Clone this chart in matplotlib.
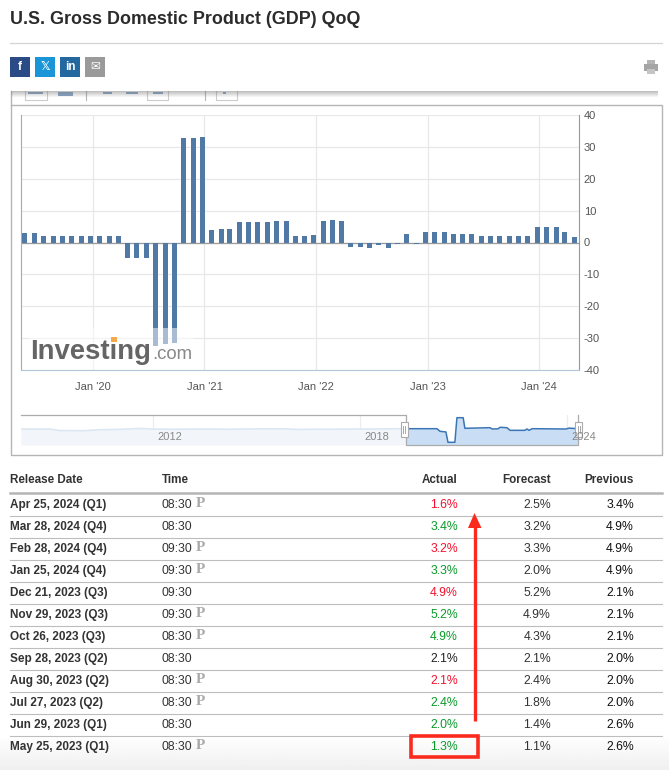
import numpy as np
import pandas as pd
from matplotlib import pyplot as plt
from matplotlib.patches import Rectangle, Polygon

plt.rcParams['font.family'] = ['Liberation Sans', 'DejaVu Sans']
plt.rcParams['axes.unicode_minus'] = False

W, H = 669, 770

#--- Main chart data (one bar per month)
bar_dates = [
    '2019-05-25', '2019-06-25', '2019-07-25', '2019-08-25', '2019-09-25', '2019-10-25', '2019-11-25', '2019-12-25',
    '2020-01-25', '2020-02-25', '2020-03-25', '2020-04-25', '2020-05-25', '2020-06-25', '2020-07-25', '2020-08-25',
    '2020-09-25', '2020-10-25', '2020-11-25', '2020-12-25', '2021-01-25', '2021-02-25', '2021-03-25', '2021-04-25',
    '2021-05-25', '2021-06-25', '2021-07-25', '2021-08-25', '2021-09-25', '2021-10-25', '2021-11-25', '2021-12-25',
    '2022-01-25', '2022-02-25', '2022-03-25', '2022-04-25', '2022-05-25', '2022-06-25', '2022-07-25', '2022-08-25',
    '2022-09-25', '2022-10-25', '2022-11-25', '2022-12-25', '2023-01-25', '2023-02-25', '2023-03-25', '2023-04-25',
    '2023-05-25', '2023-06-25', '2023-07-25', '2023-08-25', '2023-09-25', '2023-10-25', '2023-11-25', '2023-12-25',
    '2024-01-25', '2024-02-25', '2024-03-25', '2024-04-25',
]
bar_values = [
    3.0, 3.0, 2.1, 2.0, 2.0, 2.0, 2.1, 2.1, 2.1, 2.1, 2.1, -4.8, -4.9, -4.9, -32.6, -31.8, -31.4, 32.9, 32.9, 33.2,
    4.0, 4.1, 4.1, 6.4, 6.4, 6.4, 6.4, 6.7, 6.7, 2.0, 2.1, 2.3, 6.9, 7.0, 6.9, -1.4, -1.4, -1.6, -0.9, -1.6, -0.6,
    2.6, -0.4, 3.2, 3.2, 3.2, 2.6, 2.6, 2.6, 2.0, 2.0, 2.0, 2.1, 2.1, 2.1, 4.9, 4.9, 4.9, 3.3, 1.6,
]
y_ticks = [40, 30, 20, 10, 0, -10, -20, -30, -40]
x_tick_dates = ['2020-01-01', '2021-01-01', '2022-01-01', '2023-01-01', '2024-01-01']
x_tick_labels = ["Jan '20", "Jan '21", "Jan '22", "Jan '23", "Jan '24"]

#--- Navigator data, left of the selection
nav_years = [2008.17, 2009.0, 2009.3, 2010.0, 2010.4, 2011.0, 2011.6, 2012.0, 2012.6, 2013.2, 2013.8, 2014.2, 2014.6,
             2015.2, 2015.8, 2016.2, 2016.8, 2017.2, 2017.8, 2018.2, 2018.8, 2019.33]
nav_values = [2.5, 2.5, -1.5, -2.0, 0.5, 1.5, 4.0, 2.5, 2.0, 2.5, 2.5, 2.0, 2.5, 3.0, 3.0, 1.5, 2.0, 2.0, 2.5, 2.5, 3.0, 3.4]
#--- Navigator data, inside the selection
sel_years = [2019.33, 2019.42, 2020.23, 2020.32, 2020.49, 2020.55, 2020.75, 2020.81, 2020.99, 2021.04, 2021.77, 2021.83,
             2022.0, 2022.06, 2022.26, 2022.35, 2022.78, 2022.84, 2022.90, 2022.99, 2023.97, 2024.06, 2024.2, 2024.32]
sel_values = [3.4, 3.4, 3.4, -3.4, -5.0, -32.0, -32.0, 32.0, 32.0, 4.4, 6.0, 2.6,
              3.0, 7.0, 6.0, -0.9, -0.9, 2.6, -0.9, 3.4, 2.6, 4.9, 4.0, 4.0]
nav_tick_years = [2012, 2018, 2024]

#--- Table data
release_dates = ['Apr 25, 2024 (Q1)', 'Mar 28, 2024 (Q4)', 'Feb 28, 2024 (Q4)', 'Jan 25, 2024 (Q4)',
                 'Dec 21, 2023 (Q3)', 'Nov 29, 2023 (Q3)', 'Oct 26, 2023 (Q3)', 'Sep 28, 2023 (Q2)',
                 'Aug 30, 2023 (Q2)', 'Jul 27, 2023 (Q2)', 'Jun 29, 2023 (Q1)', 'May 25, 2023 (Q1)']
times = ['08:30', '08:30', '09:30', '09:30', '09:30', '09:30', '08:30', '08:30', '08:30', '08:30', '08:30', '08:30']
prelim = [True, False, True, True, False, True, True, False, True, True, False, True]
actual = ['1.6%', '3.4%', '3.2%', '3.3%', '4.9%', '5.2%', '4.9%', '2.1%', '2.1%', '2.4%', '2.0%', '1.3%']
actual_colors = ['r', 'g', 'r', 'g', 'r', 'g', 'g', 'k', 'r', 'g', 'g', 'g']
forecast = ['2.5%', '3.2%', '3.3%', '2.0%', '5.2%', '4.9%', '4.3%', '2.1%', '2.4%', '1.8%', '1.4%', '1.1%']
previous = ['3.4%', '4.9%', '4.9%', '4.9%', '2.1%', '2.1%', '2.1%', '2.0%', '2.0%', '2.0%', '2.6%', '2.6%']

color_map = {'r': '#f5112e', 'g': '#0a9a2a', 'k': '#222222'}
BAR_COLOR = '#5079a5'
GRID = '#e8e8e8'
RIGHT = 661.5


def axes_px(left, top, right, bottom, **kwargs):
    return fig.add_axes([left / W, 1 - bottom / H, (right - left) / W, (bottom - top) / H], **kwargs)


fig = plt.figure(figsize=(W / 100, H / 100), dpi=100, facecolor='white')

# ------------------------ page layer, in pixels ------------------------
page = fig.add_axes([0, 0, 1, 1], zorder=0)
page.set_xlim(0, W)
page.set_ylim(H, 0)
page.axis('off')

page.text(10, 20, 'U.S. Gross Domestic Product (GDP) QoQ', fontsize=12.9, fontweight='bold', color='#2b2b2b', va='center')
page.plot([10, RIGHT], [42.5, 42.5], color='#d4d4d4', lw=0.9)

#--- Share buttons
share_left = [10, 35, 60, 85]
share_colors = ['#2b4b86', '#1a95d8', '#23689f', '#9a9a9a']
share_text = ['f', '𝕏', 'in', '✉']
for x0, col, txt in zip(share_left, share_colors, share_text):
    page.add_patch(Rectangle((x0, 57), 20, 20, facecolor=col, edgecolor='none'))
    page.text(x0 + 10, 67, txt, color='white', fontsize=8.5, ha='center', va='center', fontweight='bold',
              family=['DejaVu Sans'] if txt in ('𝕏', '✉') else ['Liberation Sans'])

#--- Printer icon
page.add_patch(Rectangle((644, 64), 14, 7, facecolor='#a5a5a5', edgecolor='none'))
page.add_patch(Rectangle((647, 60), 8, 4, facecolor='#b5b5b5', edgecolor='none'))
page.add_patch(Rectangle((647, 69), 8, 5, facecolor='#c5c5c5', edgecolor='none'))

#--- Chart container and cut off toolbar
page.plot([11, 11, RIGHT, RIGHT, 11], [91, 454.5, 454.5, 104.5, 104.5], color='#b5b5b5', lw=1)
for x0, x1 in [(25, 47), (147, 168), (216, 237)]:
    page.plot([x0, x0, x1, x1], [91, 99.5, 99.5, 91], color='#cccccc', lw=0.8)
for x0, x1, h in [(28, 43, 2), (58, 73, 4), (103, 112, 1.5), (126, 138, 2), (153, 163, 2), (223, 226, 1.5)]:
    page.add_patch(Rectangle((x0, 92), x1 - x0, h, facecolor='#86a3c6', edgecolor='none'))
for x0 in [86, 205]:
    page.plot([x0, x0], [91, 100], color='#b5b5b5', lw=0.8)
shade = np.ones((8, 1, 4))
shade[:, 0, :3] = 0.45
shade[:, 0, 3] = np.linspace(0.45, 0, 8)
page.imshow(shade, extent=(11, 658, 98, 91), aspect='auto', zorder=3)
page.set_xlim(0, W)
page.set_ylim(H, 0)

#--- Table header
header_y = 480
page.text(10, header_y, 'Release Date', fontsize=8.4, fontweight='bold', color='#333333', va='center')
page.text(162, header_y, 'Time', fontsize=8.4, fontweight='bold', color='#333333', va='center')
page.text(457.7, header_y, 'Actual', fontsize=8.4, fontweight='bold', color='#333333', va='center', ha='right')
page.text(551.3, header_y, 'Forecast', fontsize=8.4, fontweight='bold', color='#333333', va='center', ha='right')
page.text(634, header_y, 'Previous', fontsize=8.4, fontweight='bold', color='#333333', va='center', ha='right')
page.plot([10, RIGHT], [493, 493], color='#b5b5b5', lw=1.8)

#--- Bottom fade of the last row
page.imshow(np.linspace(1, 0.94, 20)[:, None], cmap='gray', vmin=0, vmax=1, extent=(0, W, 770, 735), aspect='auto', zorder=0)
page.set_xlim(0, W)
page.set_ylim(H, 0)

#--- Table rows
for i in range(len(release_dates)):
    y = 505 + 22 * i
    page.text(10, y, release_dates[i], fontsize=8.5, fontweight='bold', color='#333333', va='center')
    page.text(162, y, times[i], fontsize=8.8, color='#333333', va='center')
    if prelim[i]:
        page.text(196, y - 1.5, 'P', fontsize=11, fontweight='bold', color='#aaaaaa', va='center', family=['Liberation Serif'])
    page.text(458, y, actual[i], fontsize=8.8, color=color_map[actual_colors[i]], va='center', ha='right')
    page.text(551, y, forecast[i], fontsize=8.8, color='#333333', va='center', ha='right')
    page.text(634, y, previous[i], fontsize=8.8, color='#111111', va='center', ha='right')
    if i < len(release_dates) - 1:
        page.plot([10, RIGHT], [y + 11, y + 11], color='#bdbdbd', lw=0.8)

#--- Red annotations
RED = '#fb2a1f'
page.add_patch(Rectangle((411, 736), 67, 21, facecolor='none', edgecolor=RED, lw=2.6, zorder=5))
page.plot([474.5, 474.5], [721, 526], color=RED, lw=2.4, zorder=5, solid_capstyle='butt')
page.add_patch(Polygon([(474.5, 513), (468, 528), (481.5, 528)], closed=True, facecolor=RED, edgecolor='none', zorder=5))

# ------------------------ main chart ------------------------
ax = axes_px(21, 115, 579, 370, zorder=2)
ax.patch.set_alpha(0)
dates = pd.to_datetime(bar_dates)
ax.bar(dates, bar_values, width=16.3, color=BAR_COLOR, zorder=3)
ax.axhline(0, color='#9a9a9a', lw=0.9, zorder=2)
ax.set_xlim(pd.Timestamp('2019-05-12'), pd.Timestamp('2024-05-10'))
ax.set_ylim(-40, 40)
ax.set_yticks(y_ticks)
ax.set_xticks(pd.to_datetime(x_tick_dates))
ax.set_xticklabels(x_tick_labels)
ax.grid(True, color=GRID, lw=0.9, zorder=0)
ax.set_axisbelow(True)
ax.yaxis.tick_right()
ax.tick_params(axis='both', length=0, labelsize=8, labelcolor='#555555')
ax.tick_params(axis='x', pad=8.5)
ax.tick_params(axis='y', pad=3.5)
ax.spines['top'].set_visible(False)
ax.spines['left'].set_color('#aaaaaa')
ax.spines['right'].set_color('#999999')
ax.spines['bottom'].set_color('#b4c6dc')

#--- Investing.com watermark, it washes out the bars below it
page_top = axes_px(0, 0, W, H, zorder=3)
page_top.set_xlim(0, W)
page_top.set_ylim(H, 0)
page_top.axis('off')
page_top.add_patch(Rectangle((29, 328), 164, 41, facecolor='white', edgecolor='none', alpha=0.5))
page_top.text(30, 359, 'Investing', fontsize=19.8, fontweight='bold', color='#656565', va='baseline')
page_top.text(152, 359, '.com', fontsize=13.4, color='#888888', va='baseline')
page_top.add_patch(Rectangle((111, 337), 6, 5, facecolor='#f7a94a', edgecolor='none', zorder=6))

# ------------------------ navigator ------------------------
NAV_PX_PER_YEAR = 34.5
nav = axes_px(21, 415, 578.3, 445, zorder=2)
nav.patch.set_alpha(0)
nav.set_xlim(2012 + (21 - 153) / NAV_PX_PER_YEAR, 2012 + (578.3 - 153) / NAV_PX_PER_YEAR)
nav.set_ylim(-39, 39)
nav.axis('off')

nav.fill_between(nav_years, nav_values, -39, color='#f2f6fb', lw=0)
nav.plot(nav_years, nav_values, color='#dce7f3', lw=1.2)
nav.fill_between(sel_years, sel_values, -39, color='#c9def5', lw=0)
nav.plot(sel_years, sel_values, color='#3a75b5', lw=1.1)
for year in nav_tick_years:
    nav.axvline(year, color='#ececec', lw=0.8, zorder=0)

#--- Navigator outline, handles and year labels, on the pixel layer
page_top.plot([21, 406, 406, 578.3, 578.3], [415, 415, 445, 445, 415], color='#ababab', lw=0.9)
for x0 in [404, 578.5]:
    page_top.add_patch(Rectangle((x0 - 3.5, 422), 7, 15, facecolor='white', edgecolor='#ababab', lw=0.8, zorder=5))
    page_top.plot([x0 - 1, x0 - 1], [426, 433], color='#999999', lw=0.6, zorder=6)
    page_top.plot([x0 + 1, x0 + 1], [426, 433], color='#999999', lw=0.6, zorder=6)
for year in nav_tick_years:
    px = 157 + (year - 2012) * NAV_PX_PER_YEAR
    page_top.text(px, 437, str(year), fontsize=8, color='#888888', va='center', zorder=7)

plt.savefig('out.png', dpi=100)
